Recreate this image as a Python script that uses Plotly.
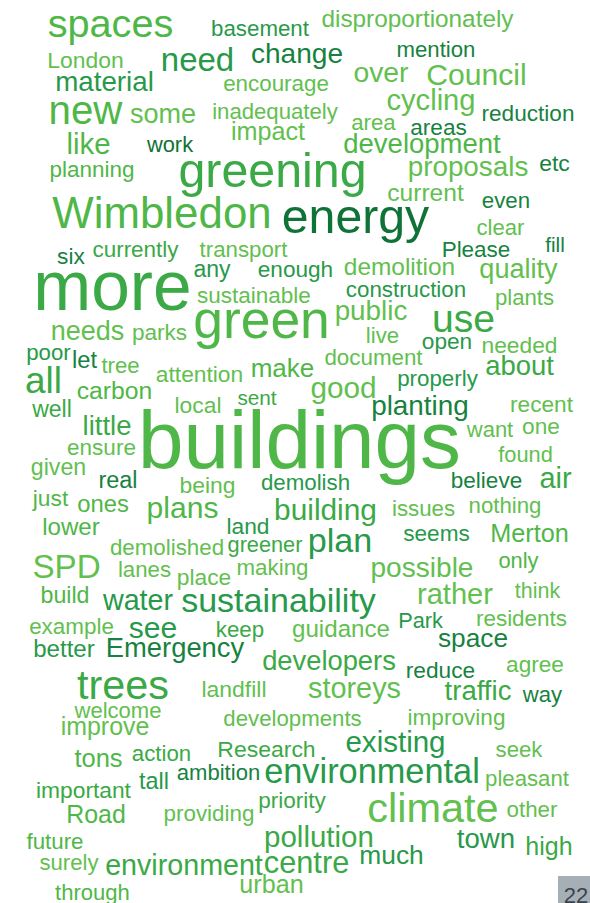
import plotly.graph_objects as go

# ---- data: word, ink extent (left/right), baseline, colour shade index ----
words = ["spaces", "basement", "disproportionately", "London", "need", "change", "mention",
         "material", "encourage", "over", "Council", "new", "some", "inadequately", "cycling",
         "reduction", "area", "areas", "like", "work", "impact", "development", "planning",
         "greening", "proposals", "etc", "current", "even", "Wimbledon", "energy", "clear",
         "six", "currently", "transport", "Please", "fill", "any", "enough", "demolition",
         "quality", "more", "sustainable", "construction", "plants", "green", "public", "use",
         "needs", "parks", "live", "open", "needed", "poor", "let", "tree", "document", "about",
         "make", "attention", "all", "carbon", "properly", "good", "well", "local", "sent",
         "planting", "recent", "little", "want", "one", "ensure", "buildings", "found", "given",
         "real", "believe", "air", "being", "demolish", "just", "ones", "plans", "building",
         "issues", "nothing", "lower", "land", "seems", "Merton", "demolished", "greener", "plan",
         "SPD", "lanes", "place", "making", "only", "possible", "think", "rather", "build",
         "water", "sustainability", "example", "see", "keep", "guidance", "Park", "residents",
         "space", "better", "Emergency", "developers", "reduce", "agree", "trees", "landfill",
         "storeys", "traffic", "way", "welcome", "improve", "developments", "improving",
         "Research", "existing", "seek", "tons", "action", "ambition", "environmental", "tall",
         "important", "pleasant", "priority", "climate", "Road", "providing", "other", "future",
         "pollution", "town", "high", "surely", "environment", "centre", "much", "urban", "through"]

left = [49, 212, 322, 49, 163, 252, 398,
        57, 224, 354, 428, 50, 131, 213, 388,
        483, 352, 411, 68, 147, 232, 344, 51,
        181, 409, 540, 388, 483, 54, 283, 477,
        58, 93, 200, 443, 546, 194, 259, 345,
        480, 37, 198, 347, 496, 196, 336, 434,
        52, 133, 367, 423, 483, 27, 73, 102, 325, 486,
        252, 157, 27, 78, 398, 312, 33, 176, 238,
        373, 511, 84, 467, 523, 68, 142, 499, 32,
        100, 452, 540, 181, 262, 33, 78, 148, 276,
        393, 470, 43, 228, 404, 492, 111, 228, 310,
        34, 119, 178, 238, 499, 372, 515, 418, 42,
        103, 182, 30, 130, 217, 293, 399, 477,
        439, 34, 107, 263, 407, 507, 78, 203,
        309, 445, 523, 75, 62, 224, 409,
        219, 347, 496, 75, 133, 178, 266, 140,
        37, 486, 259, 369, 68, 165, 507, 27,
        266, 458, 527, 40, 106, 265, 361, 241, 56]

right = [172, 308, 513, 122, 232, 342, 474,
         152, 328, 408, 525, 121, 195, 337, 474,
         573, 395, 466, 109, 193, 304, 500, 133,
         364, 527, 569, 463, 529, 270, 428, 524,
         84, 178, 287, 509, 564, 230, 332, 454,
         557, 188, 310, 465, 553, 327, 406, 493,
         123, 186, 398, 471, 556, 70, 96, 139, 422, 553,
         313, 242, 60, 151, 477, 375, 71, 220, 276,
         467, 572, 130, 513, 559, 135, 457, 552, 85,
         136, 521, 571, 234, 349, 68, 128, 217, 375,
         454, 540, 99, 268, 469, 567, 223, 302, 370,
         99, 170, 230, 307, 538, 472, 560, 492, 88,
         173, 375, 113, 176, 263, 389, 442, 566,
         507, 94, 243, 395, 474, 563, 168, 265,
         400, 511, 562, 161, 148, 361, 504,
         314, 444, 542, 122, 190, 259, 478, 168,
         130, 568, 325, 497, 124, 253, 557, 83,
         372, 514, 571, 98, 262, 348, 422, 302, 129]

baseline = [37, 36, 27, 68, 71, 63, 57,
            91, 91, 82, 85, 124, 123, 119, 110,
            121, 130, 135, 154, 152, 140, 153, 177,
            187, 176, 171, 201, 208, 228, 233, 235,
            264, 257, 257, 257, 252, 277, 277, 275,
            278, 310, 303, 297, 305, 338, 320, 332,
            340, 340, 343, 349, 353, 360, 368, 373, 365, 375,
            377, 382, 393, 399, 386, 398, 417, 413, 405,
            415, 412, 435, 437, 434, 455, 468, 462, 475,
            488, 488, 488, 493, 490, 506, 512, 518, 520,
            516, 513, 535, 534, 541, 542, 555, 552, 552,
            578, 577, 585, 575, 568, 577, 598, 604, 603,
            610, 612, 634, 638, 637, 637, 628, 626,
            647, 657, 657, 670, 678, 672, 699, 697,
            698, 700, 702, 718, 735, 726, 725,
            757, 752, 757, 767, 761, 780, 783, 789,
            798, 786, 808, 822, 823, 821, 817, 849,
            847, 848, 855, 870, 875, 873, 864, 893, 900]

shade = [1, 3, 0, 0, 3, 4, 4,
         3, 0, 0, 0, 1, 0, 0, 0,
         4, 0, 4, 1, 5, 0, 1, 1,
         2, 0, 4, 0, 4, 1, 5, 0,
         4, 2, 0, 4, 4, 3, 3, 0,
         0, 2, 0, 3, 0, 1, 0, 2,
         0, 0, 0, 3, 0, 3, 4, 0, 0, 2,
         1, 0, 2, 1, 3, 0, 2, 0, 2,
         4, 0, 2, 0, 0, 0, 1, 0, 0,
         4, 4, 2, 0, 3, 1, 1, 1, 2,
         0, 0, 1, 3, 3, 1, 0, 2, 3,
         0, 0, 0, 0, 1, 0, 0, 0, 1,
         3, 3, 0, 3, 2, 0, 3, 0,
         4, 3, 4, 2, 4, 0, 2, 0,
         0, 2, 4, 0, 0, 0, 0,
         2, 3, 0, 1, 2, 4, 3, 3,
         2, 0, 2, 0, 1, 0, 0, 1,
         2, 3, 2, 0, 2, 2, 3, 0, 1]

page_label = "22"

palette = ["#62C04F", "#4FB748", "#3AA946", "#27994A", "#17823F", "#0F7237"]

# ---- Arial / Liberation Sans advance widths (per 1000 em) ----
ADV = dict(a=556, b=556, c=500, d=556, e=556, f=278, g=556, h=556, i=222, j=222, k=500,
           l=222, m=833, n=556, o=556, p=556, q=556, r=333, s=500, t=278, u=556, v=500,
           w=722, x=500, y=500, z=500, C=722, D=722, E=667, L=556, M=833, P=667, R=722,
           S=667, W=944)
LSB = dict(b=66, d=34, h=66, i=66, k=66, l=66, m=66, n=66, p=66, r=66, u=66, j=0, f=10,
           t=17, v=7, w=4, x=7, y=14, D=80, E=80, L=80, M=80, P=80, R=80, W=10, S=47, C=50)
RSB = dict(d=66, h=66, i=66, l=66, m=66, n=66, u=66, g=66, y=10, t=20, r=0, k=0, w=4,
           c=30, s=30, a=25, e=40, D=50, l_=66)


def ink_em(word):
    total = sum(ADV.get(c, 556) for c in word)
    total -= LSB.get(word[0], 40) + RSB.get(word[-1], 40)
    return total / 1000.0


sizes = [(r - l) / ink_em(w) for w, l, r in zip(words, left, right)]
xs = [(l + r) / 2 for l, r in zip(left, right)]
ys = [b - 0.25 * s for b, s in zip(baseline, sizes)]
cols = [palette[k] for k in shade]

FONT = "Liberation Sans, Arial, Helvetica, sans-serif"

fig = go.Figure()
fig.add_trace(go.Scatter(
    x=xs, y=ys, mode="text", text=words,
    textposition="middle center",
    textfont=dict(family=FONT, size=sizes, color=cols),
    hoverinfo="skip", showlegend=False,
))

# page number tag in the corner
fig.add_shape(type="rect", x0=558, x1=592, y0=876, y1=905,
              fillcolor="#A7AFB6", line=dict(width=0), layer="below")
fig.add_trace(go.Scatter(
    x=[576], y=[903 - 0.25 * 22], mode="text", text=[page_label],
    textposition="middle center",
    textfont=dict(family=FONT, size=22, color="#3B444D"),
    hoverinfo="skip", showlegend=False,
))

fig.update_layout(
    width=590, height=903, autosize=False,
    margin=dict(l=0, r=0, t=0, b=0, pad=0),
    paper_bgcolor="white", plot_bgcolor="white",
    xaxis=dict(range=[0, 590], visible=False, fixedrange=True),
    yaxis=dict(range=[903, 0], visible=False, fixedrange=True),
)

fig.write_html("out.html", config={"displayModeBar": False},
               post_script="document.body.style.margin='0';document.body.style.overflow='hidden';")
